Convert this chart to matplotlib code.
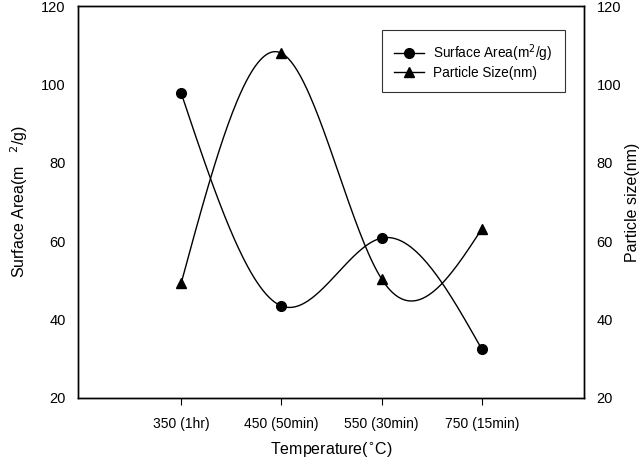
import matplotlib
matplotlib.use("Agg")
import matplotlib.pyplot as plt
import numpy as np

plt.rcParams['font.family'] = ['Liberation Sans', 'DejaVu Sans']

# data
temps = ['350 (1hr)', '450 (50min)', '550 (30min)', '750 (15min)']
surface_area = [97.8, 43.5, 60.8, 32.5]
particle_size = [49.3, 108.0, 50.4, 63.1]


def natural_spline(xs, ys, n=200):
    # natural cubic spline, same idea as the smooth line in the original plot
    xs = np.asarray(xs, float)
    ys = np.asarray(ys, float)
    m = len(xs)
    h = np.diff(xs)
    A = np.zeros((m, m))
    b = np.zeros(m)
    A[0, 0] = 1
    A[-1, -1] = 1
    for i in range(1, m - 1):
        A[i, i - 1] = h[i - 1]
        A[i, i] = 2 * (h[i - 1] + h[i])
        A[i, i + 1] = h[i]
        b[i] = 6 * ((ys[i + 1] - ys[i]) / h[i] - (ys[i] - ys[i - 1]) / h[i - 1])
    M = np.linalg.solve(A, b)
    xx = np.linspace(xs[0], xs[-1], n)
    idx = np.clip(np.searchsorted(xs, xx) - 1, 0, m - 2)
    x0, x1 = xs[idx], xs[idx + 1]
    hh = x1 - x0
    yy = (M[idx] * (x1 - xx) ** 3 / (6 * hh) + M[idx + 1] * (xx - x0) ** 3 / (6 * hh)
          + (ys[idx] / hh - M[idx] * hh / 6) * (x1 - xx)
          + (ys[idx + 1] / hh - M[idx + 1] * hh / 6) * (xx - x0))
    return xx, yy


x = np.arange(len(temps))

fig = plt.figure(figsize=(6.42, 4.71), dpi=100)
ax = fig.add_axes([0.1215, 0.155, 0.788, 0.832])

xs, ys = natural_spline(x, surface_area)
ax.plot(xs, ys, color='black', lw=1)
ax.plot(x, surface_area, 'o', color='black', ms=7)
xs, ys = natural_spline(x, particle_size)
ax.plot(xs, ys, color='black', lw=1)
ax.plot(x, particle_size, '^', color='black', ms=7)

# legend handles
ax.plot([], [], '-o', color='black', lw=1, ms=7, label='Surface Area(m$^2$/g)')
ax.plot([], [], '-^', color='black', lw=1, ms=7, label='Particle Size(nm)')
leg = ax.legend(loc='upper right', bbox_to_anchor=(0.962, 0.94), fontsize=9.8,
                frameon=True, fancybox=False, edgecolor='black', borderaxespad=0,
                handlelength=2.2, borderpad=0.95, labelspacing=0.1, handletextpad=0.6)
leg.get_frame().set_linewidth(0.8)

ax.set_xlim(-1.03, 4.02)
ax.set_ylim(20, 120)
ax.set_xticks(x)
ax.set_xticklabels(temps, fontsize=10)
ax.set_yticks(np.arange(20, 121, 20))
ax.tick_params(axis='y', length=0, pad=9, labelsize=10.5)
ax.tick_params(axis='x', length=5, pad=9, direction='out')
ax.set_xlabel('Temperature($^{\\circ}$C)', fontsize=11.5, labelpad=6)
ax.set_ylabel('Surface Area(m   $^2$/g)', fontsize=11.5, labelpad=8)

ax2 = ax.twinx()
ax2.set_ylim(20, 120)
ax2.set_yticks(np.arange(20, 121, 20))
ax2.tick_params(axis='y', length=0, pad=9, labelsize=10.5)
ax2.set_ylabel('Particle size(nm)', fontsize=11.5, labelpad=3)

for a in (ax, ax2):
    for s in a.spines.values():
        s.set_linewidth(1)

fig.savefig('out.png', dpi=100)
